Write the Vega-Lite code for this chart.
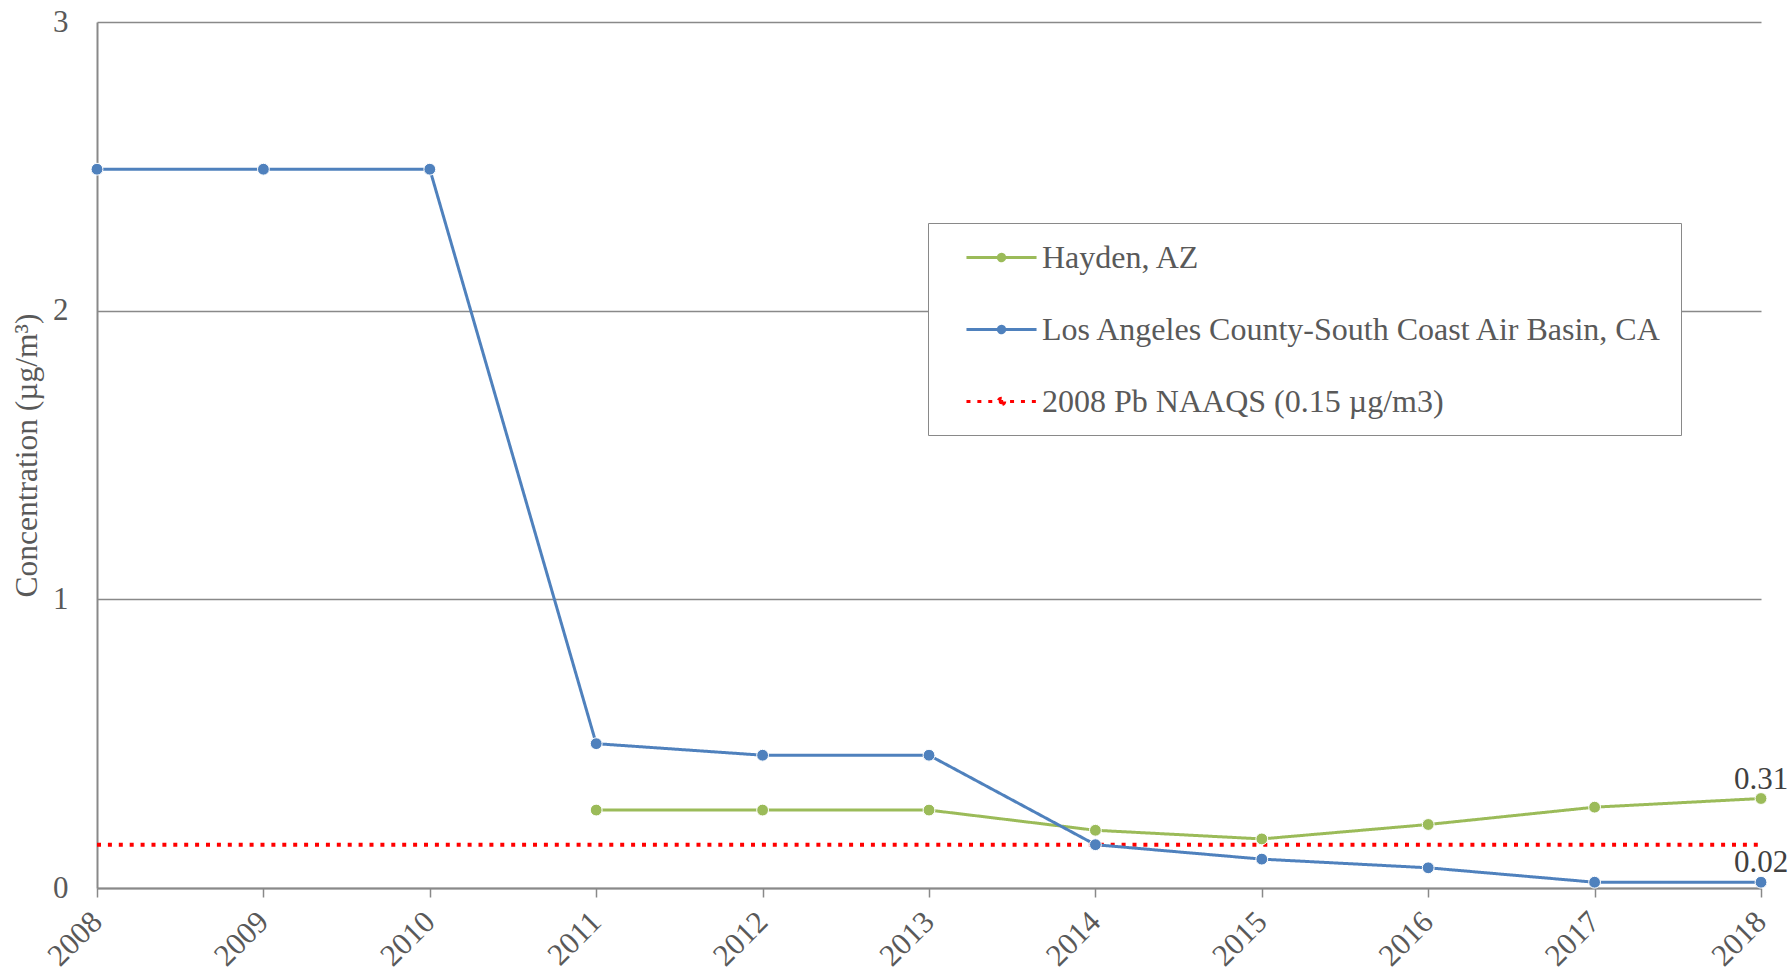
{
  "$schema": "https://vega.github.io/schema/vega-lite/v6.json",
  "width": 1664,
  "height": 866,
  "autosize": {"type": "none"},
  "padding": {"left": 97, "top": 22, "right": 31, "bottom": 85},
  "background": "white",
  "data": {
    "values": [
      {"series": "Hayden, AZ", "year": 2011, "value": 0.27},
      {"series": "Hayden, AZ", "year": 2012, "value": 0.27},
      {"series": "Hayden, AZ", "year": 2013, "value": 0.27},
      {"series": "Hayden, AZ", "year": 2014, "value": 0.20},
      {"series": "Hayden, AZ", "year": 2015, "value": 0.17},
      {"series": "Hayden, AZ", "year": 2016, "value": 0.22},
      {"series": "Hayden, AZ", "year": 2017, "value": 0.28},
      {"series": "Hayden, AZ", "year": 2018, "value": 0.31, "label": "0.31"},
      {"series": "Los Angeles County-South Coast Air Basin, CA", "year": 2008, "value": 2.49},
      {"series": "Los Angeles County-South Coast Air Basin, CA", "year": 2009, "value": 2.49},
      {"series": "Los Angeles County-South Coast Air Basin, CA", "year": 2010, "value": 2.49},
      {"series": "Los Angeles County-South Coast Air Basin, CA", "year": 2011, "value": 0.50},
      {"series": "Los Angeles County-South Coast Air Basin, CA", "year": 2012, "value": 0.46},
      {"series": "Los Angeles County-South Coast Air Basin, CA", "year": 2013, "value": 0.46},
      {"series": "Los Angeles County-South Coast Air Basin, CA", "year": 2014, "value": 0.15},
      {"series": "Los Angeles County-South Coast Air Basin, CA", "year": 2015, "value": 0.10},
      {"series": "Los Angeles County-South Coast Air Basin, CA", "year": 2016, "value": 0.07},
      {"series": "Los Angeles County-South Coast Air Basin, CA", "year": 2017, "value": 0.02},
      {"series": "Los Angeles County-South Coast Air Basin, CA", "year": 2018, "value": 0.02, "label": "0.02"},
      {"series": "2008 Pb NAAQS (0.15 µg/m3)", "year": 2008, "value": 0.15},
      {"series": "2008 Pb NAAQS (0.15 µg/m3)", "year": 2018, "value": 0.15}
    ]
  },
  "encoding": {
    "x": {
      "field": "year", "type": "quantitative",
      "scale": {"domain": [2008, 2018], "nice": false, "zero": false},
      "axis": {
        "values": [2008, 2009, 2010, 2011, 2012, 2013, 2014, 2015, 2016, 2017, 2018],
        "format": "d", "title": null, "grid": false,
        "domainColor": "#898989", "domainWidth": 2,
        "tickColor": "#898989", "tickWidth": 1.5, "tickSize": 9,
        "labelAngle": -45, "labelAlign": "right", "labelBaseline": "middle",
        "labelFontSize": 31, "labelColor": "#595959", "labelPadding": 20,
        "labelFont": "Liberation Serif", "labelOverlap": false, "labelBound": false, "labelFlush": false
      }
    },
    "y": {
      "field": "value", "type": "quantitative",
      "scale": {"domain": [0, 3], "nice": false},
      "axis": {
        "values": [0, 1, 2, 3], "grid": true, "gridColor": "#898989", "gridWidth": 1.3,
        "domainColor": "#898989", "domainWidth": 2, "ticks": false,
        "labelFontSize": 31, "labelColor": "#595959", "labelPadding": 29,
        "labelFont": "Liberation Serif", "labelFlush": false,
        "title": "Concentration (µg/m³)", "titleFont": "Liberation Serif",
        "titleFontSize": 31.5, "titleFontWeight": "normal", "titleColor": "#595959",
        "titleX": -61, "titleY": 433, "titleBaseline": "alphabetic", "titleAngle": -90, "titleAlign": "center"
      }
    }
  },
  "layer": [
    {
      "transform": [{"filter": "datum.series === '2008 Pb NAAQS (0.15 µg/m3)'"}],
      "mark": {"type": "line", "strokeWidth": 4},
      "encoding": {
        "color": {
          "field": "series", "type": "nominal",
          "scale": {
            "domain": ["Hayden, AZ", "Los Angeles County-South Coast Air Basin, CA", "2008 Pb NAAQS (0.15 µg/m3)"],
            "range": ["#9BBB59", "#4F81BD", "#FF0000"]
          },
          "legend": {
            "symbolType": "M-2.19,0H2.19M0.2,0A0.2,0.2,0,1,1,-0.2,0A0.2,0.2,0,1,1,0.2,0ZM0.08,0A0.08,0.08,0,1,1,-0.08,0A0.08,0.08,0,1,1,0.08,0Z"
          }
        },
        "strokeDash": {
          "field": "series", "type": "nominal",
          "scale": {
            "domain": ["Hayden, AZ", "Los Angeles County-South Coast Air Basin, CA", "2008 Pb NAAQS (0.15 µg/m3)"],
            "range": [[1, 0], [1, 0], [4, 6.9]]
          },
          "legend": {
            "symbolType": "M-2.19,0H2.19M0.2,0A0.2,0.2,0,1,1,-0.2,0A0.2,0.2,0,1,1,0.2,0ZM0.08,0A0.08,0.08,0,1,1,-0.08,0A0.08,0.08,0,1,1,0.08,0Z"
          }
        }
      }
    },
    {
      "transform": [{"filter": "datum.series !== '2008 Pb NAAQS (0.15 µg/m3)'"}],
      "mark": {"type": "line", "strokeWidth": 3, "strokeJoin": "round"},
      "encoding": {
        "color": {"field": "series", "type": "nominal"},
        "strokeDash": {"field": "series", "type": "nominal"}
      }
    },
    {
      "transform": [{"filter": "datum.series !== '2008 Pb NAAQS (0.15 µg/m3)'"}],
      "mark": {"type": "point", "filled": true, "size": 140, "stroke": "white", "strokeWidth": 1, "opacity": 1},
      "encoding": {
        "fill": {
          "field": "series", "type": "nominal",
          "scale": {"domain": ["Hayden, AZ", "Los Angeles County-South Coast Air Basin, CA"], "range": ["#9BBB59", "#4F81BD"]},
          "legend": null
        }
      }
    },
    {
      "transform": [{"filter": "isValid(datum.label)"}],
      "mark": {"type": "text", "align": "center", "baseline": "alphabetic", "dy": -10, "fontSize": 31, "font": "Liberation Serif", "color": "#404040"},
      "encoding": {
        "text": {"field": "label", "type": "nominal"}
      }
    }
  ],
  "config": {
    "view": {"stroke": null},
    "font": "Liberation Serif",
    "legend": {
      "orient": "none", "legendX": 831, "legendY": 201, "title": null,
      "strokeColor": "#898989", "fillColor": "white", "padding": 17,
      "labelFont": "Liberation Serif", "labelFontSize": 32, "labelColor": "#595959", "labelLimit": 1200,
      "symbolSize": 1024, "symbolStrokeWidth": 3, "symbolOffset": 39, "labelOffset": 23, "rowPadding": 38,
      "symbolOpacity": 1
    }
  }
}
